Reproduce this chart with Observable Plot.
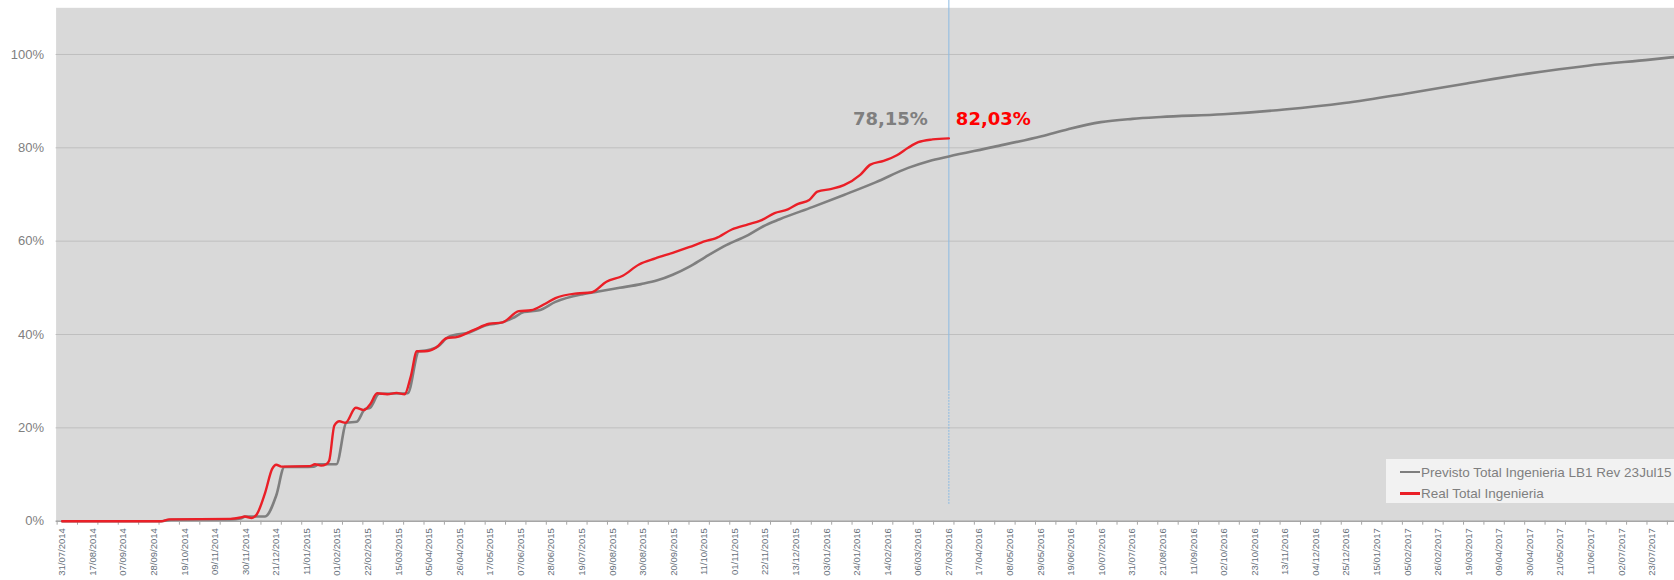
<!DOCTYPE html>
<html>
<head>
<meta charset="utf-8">
<script src="https://cdn.jsdelivr.net/npm/d3@7"></script>
<script src="https://cdn.jsdelivr.net/npm/@observablehq/plot@0.6"></script>
<style>
  html, body { margin: 0; padding: 0; background: #ffffff; }
  #wrap { position: relative; width: 1674px; height: 580px; overflow: hidden; font-family: "Liberation Sans", Arial, sans-serif; }
  #legend { position: absolute; left: 1386px; top: 459px; width: 288px; height: 44px; background: #f2f2f2; }
  .row { position: absolute; left: 14px; height: 16px; display: flex; align-items: center; font-size: 13.5px; color: #7f7f7f; white-space: nowrap; }
  .sw { width: 20px; height: 2.5px; margin-right: 1px; }
</style>
</head>
<body>
<div id="wrap"></div>
<script>
// Category axis: week index (0 = 31/07/2014, then one category per week)
const tickLabels = ["31/07/2014","17/08/2014","07/09/2014","28/09/2014","19/10/2014","09/11/2014","30/11/2014","21/12/2014",
  "11/01/2015","01/02/2015","22/02/2015","15/03/2015","05/04/2015","26/04/2015","17/05/2015","07/06/2015","28/06/2015",
  "19/07/2015","09/08/2015","30/08/2015","20/09/2015","11/10/2015","01/11/2015","22/11/2015","13/12/2015","03/01/2016",
  "24/01/2016","14/02/2016","06/03/2016","27/03/2016","17/04/2016","08/05/2016","29/05/2016","19/06/2016","10/07/2016",
  "31/07/2016","21/08/2016","11/09/2016","02/10/2016","23/10/2016","13/11/2016","04/12/2016","25/12/2016","15/01/2017",
  "05/02/2017","26/02/2017","19/03/2017","09/04/2017","30/04/2017","21/05/2017","11/06/2017","02/07/2017","23/07/2017"];
const labelEvery = 3;

// Previsto Total Ingenieria LB1 Rev 23Jul15 (gray)
const prevWeek = [0, 9.7, 10.7, 16.5, 17.5, 18.0, 19.9, 21.0, 21.8, 24.7, 25.2, 26.9, 27.9, 28.9, 29.7, 30.2, 31.1, 33.9,
  35.0, 35.8, 36.9, 37.9, 40.0, 41.6, 43.2, 44.2, 45.3, 46.8, 48.4, 51.0, 52.6, 54.7, 56.8, 58.4, 59.9, 61.5, 63.1, 65.2,
  67.3, 68.8, 70.4, 73.6, 76.7, 79.8, 83.0, 85.1, 87.0, 91.4, 96.1, 98.7, 101.9, 105.0, 107.8, 113.9, 119.9, 125.8,
  131.8, 137.8, 143.8, 149.7, 155.8, 158.4];
const prevPct = [0, 0, 0.3, 0.4, 0.6, 1.0, 1.0, 5.5, 11.6, 11.7, 12.2, 12.2, 21.1, 21.3, 24.0, 24.3, 27.3, 27.4,
  36.4, 36.6, 37.5, 39.5, 40.5, 42.0, 42.6, 43.5, 44.8, 45.2, 47.0, 48.6, 49.2, 50.0, 50.8, 51.6, 52.8, 54.5, 56.6, 59.2,
  61.3, 63.2, 64.7, 67.3, 69.9, 72.6, 75.7, 77.2, 78.15, 80.2, 82.5, 84.0, 85.5, 86.2, 86.6, 87.2, 88.2, 89.6,
  91.6, 93.8, 95.9, 97.6, 98.9, 99.5];

// Real Total Ingenieria (red)
const realWeek = [0, 9.7, 10.5, 16.5, 17.5, 17.9, 18.6, 19.1, 19.9, 20.6, 21.0, 21.5, 24.3, 24.8, 25.4, 25.9, 26.2, 26.7,
  27.2, 27.8, 28.8, 29.6, 30.2, 30.9, 31.9, 32.8, 33.6, 34.2, 34.8, 35.6, 36.7, 37.7, 38.8, 40.4, 41.9, 43.2, 44.8, 46.0,
  47.4, 48.4, 50.5, 51.9, 53.4, 55.0, 56.6, 58.2, 59.9, 61.5, 63.1, 64.1, 65.7, 67.3, 68.5, 69.9, 71.2, 72.2, 73.3, 74.1,
  75.5, 76.7, 78.3, 79.3, 80.6, 81.9, 83.0, 84.0, 85.4, 87.0];
const realPct = [0, 0, 0.4, 0.5, 0.8, 1.0, 0.7, 1.5, 6.0, 11.2, 12.1, 11.7, 11.8, 12.2, 11.9, 12.2, 13.0, 20.5,
  21.4, 21.1, 24.3, 23.8, 25.0, 27.4, 27.2, 27.5, 27.2, 31.0, 36.4, 36.4, 37.2, 39.2, 39.5, 41.0, 42.3, 42.6, 45.0, 45.2,
  46.6, 47.8, 48.8, 49.0, 51.3, 52.6, 55.0, 56.3, 57.5, 58.7, 60.0, 60.6, 62.5, 63.6, 64.4, 66.0, 66.8, 68.0, 68.8, 70.6,
  71.2, 72.0, 74.2, 76.4, 77.2, 78.4, 80.0, 81.2, 81.8, 82.03];

// Status-date annotations
const annoText = ["78,15%", "82,03%"];
const annoValue = [78.15, 82.03];
const gridValues = [20, 40, 60, 80, 100];
const yTicks = [0, 20, 40, 60, 80, 100];

const prev = prevWeek.map((w, i) => ({w, v: prevPct[i]}));
const real = realWeek.map((w, i) => ({w, v: realPct[i]}));
const statusWeek = realWeek[realWeek.length - 1];
const labelTicks = tickLabels.map((_, i) => i * labelEvery);
const minorTicks = d3.range(-0.5, 159, 2);

const chart = Plot.plot({
  width: 1674,
  height: 580,
  marginLeft: 55.6,
  marginRight: 0,
  marginTop: 7.3,
  marginBottom: 59.3,
  style: {fontFamily: "Liberation Sans, Arial, sans-serif", background: "transparent", overflow: "visible"},
  x: {type: "linear", domain: [-0.6, 158.2]},
  y: {type: "linear", domain: [0, 110]},
  marks: [
    Plot.frame({fill: "#d9d9d9", stroke: "none"}),
    Plot.ruleY(gridValues, {stroke: "#bfbfbf", strokeWidth: 1}),
    Plot.ruleY([0], {stroke: "#a6a6a6", strokeWidth: 1.5}),
    Plot.axisY({ticks: yTicks, tickFormat: d => d + "%", tickSize: 0, tickPadding: 12, fontSize: 13, color: "#808080", label: null}),
    Plot.axisX({ticks: minorTicks, tickSize: 4, tickFormat: () => "", stroke: "#a6a6a6", label: null}),
    Plot.axisX({ticks: labelTicks, tickSize: 0, tickPadding: 7, tickRotate: -90, fontSize: 9.5,
      tickFormat: d => tickLabels[Math.round(d / labelEvery)], color: "#66707a", label: null}),
    Plot.ruleX([statusWeek], {y1: 28, y2: 112, stroke: "#8cbbe3", strokeWidth: 1, clip: false}),
    Plot.ruleX([statusWeek], {y1: 3.6, y2: 28, stroke: "#8cbbe3", strokeWidth: 1, strokeDasharray: "2,1"}),
    Plot.line(prev, {x: "w", y: "v", stroke: "#7f7f7f", strokeWidth: 2.6, curve: "monotone-x"}),
    Plot.line(real, {x: "w", y: "v", stroke: "#ea1f27", strokeWidth: 2.4, curve: "monotone-x"}),
    Plot.text([0], {x: () => statusWeek, y: () => annoValue[1], text: () => annoText[0], textAnchor: "end",
      dx: -21, dy: -19.5, fontSize: 18, fontWeight: "bold", fontFamily: "DejaVu Sans, Verdana, sans-serif", fill: "#7f7f7f"}),
    Plot.text([1], {x: () => statusWeek, y: () => annoValue[1], text: () => annoText[1], textAnchor: "start",
      dx: 7, dy: -19.5, fontSize: 18, fontWeight: "bold", fontFamily: "DejaVu Sans, Verdana, sans-serif", fill: "#ff0000"})
  ]
});

const wrap = document.getElementById("wrap");
wrap.appendChild(chart);

const legend = document.createElement("div");
legend.id = "legend";
const series = [
  {name: "Previsto Total Ingenieria LB1 Rev 23Jul15", color: "#7f7f7f"},
  {name: "Real Total Ingenieria", color: "#ea1f27"}
];
series.forEach((s, i) => {
  const row = document.createElement("div");
  row.className = "row";
  row.style.top = (5 + i * 21.6) + "px";
  const sw = document.createElement("span");
  sw.className = "sw";
  sw.style.background = s.color;
  const t = document.createElement("span");
  t.textContent = s.name;
  row.appendChild(sw);
  row.appendChild(t);
  legend.appendChild(row);
});
wrap.appendChild(legend);
</script>
</body>
</html>
